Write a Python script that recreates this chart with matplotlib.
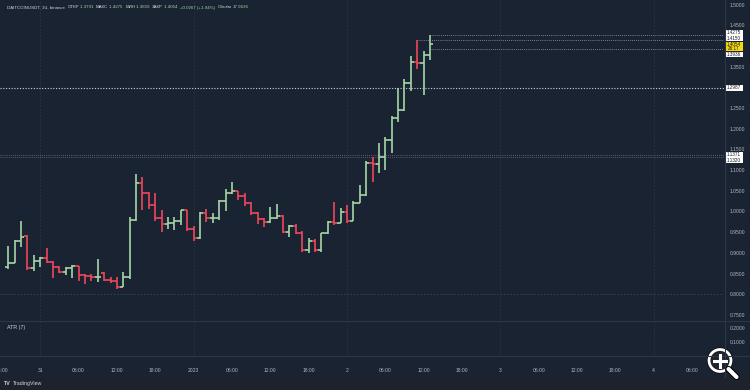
import matplotlib
matplotlib.use("Agg")
import matplotlib.pyplot as plt
from matplotlib.patches import Rectangle, Circle
import numpy as np

# ------------------------------
# DATA : 1h bars, Dec 30 19:00 -> Jan 2 13:00
# x = hours from Jan 1 00:00
# ------------------------------
hours = np.arange(-29, 38)

opens = [0.8668, 0.8765, 0.9290, 0.9409, 0.8628, 0.8805, 0.8870, 0.8789, 0.8668, 0.8531,
         0.8628, 0.8685, 0.8467, 0.8451, 0.8411, 0.8507, 0.8346, 0.8322, 0.8185, 0.8427,
         0.9796, 1.0697, 1.0456, 1.0158, 0.9852, 0.9699, 0.9731, 0.9780, 1.0030, 0.9570,
         0.9353, 0.9973, 0.9836, 0.9852, 1.0254, 1.0440, 1.0496, 1.0375, 1.0198, 0.9957,
         0.9820, 0.9739, 0.9852, 0.9892, 0.9513, 0.9651, 0.9473, 0.9071, 0.9296, 0.9071,
         0.9473, 0.9755, 0.9731, 0.9981, 0.9780, 1.0214, 1.0399, 1.1164, 1.1140, 1.1325,
         1.1728, 1.2251, 1.2452, 1.3096, 1.3619, 1.3595, 1.3791]
highs = [0.9168, 0.9304, 0.9780, 0.9425, 0.8942, 0.8894, 0.9111, 0.8795, 0.8672, 0.8668,
         0.8709, 0.8690, 0.8483, 0.8483, 0.8854, 0.8531, 0.8427, 0.8427, 0.8531, 0.9876,
         1.0906, 1.0842, 1.0480, 1.0440, 1.0037, 0.9876, 0.9876, 1.0037, 1.0037, 0.9651,
         0.9989, 1.0069, 0.9957, 1.0279, 1.0536, 1.0721, 1.0504, 1.0440, 1.0238, 0.9997,
         0.9852, 1.0101, 1.0174, 0.9908, 0.9675, 0.9699, 0.9530, 0.9369, 0.9329, 0.9489,
         0.9780, 1.0238, 1.0077, 1.0158, 1.0262, 1.0641, 1.1220, 1.1309, 1.1647, 1.1792,
         1.2315, 1.2975, 1.3193, 1.3764, 1.4143, 1.3877, 1.4275]
lows = [0.8612, 0.8749, 0.9135, 0.8588, 0.8564, 0.8652, 0.8749, 0.8387, 0.8507, 0.8467,
        0.8387, 0.8322, 0.8250, 0.8330, 0.8290, 0.8314, 0.8282, 0.8121, 0.8169, 0.8362,
        0.9780, 1.0037, 1.0053, 0.9771, 0.9497, 0.9570, 0.9554, 0.9667, 0.9530, 0.9296,
        0.9345, 0.9755, 0.9731, 0.9796, 1.0013, 1.0430, 1.0279, 1.0134, 0.9916, 0.9699,
        0.9618, 0.9731, 0.9812, 0.9473, 0.9393, 0.9457, 0.9015, 0.8990, 0.9023, 0.9031,
        0.9457, 0.9667, 0.9715, 0.9715, 0.9771, 1.0198, 1.0375, 1.0721, 1.0922, 1.1003,
        1.1406, 1.2170, 1.2436, 1.2919, 1.3434, 1.2814, 1.3659]
closes = [0.8765, 0.9290, 0.9377, 0.8628, 0.8805, 0.8870, 0.8789, 0.8668, 0.8531, 0.8628,
          0.8685, 0.8467, 0.8451, 0.8411, 0.8427, 0.8346, 0.8322, 0.8185, 0.8427, 0.9796,
          1.0697, 1.0456, 1.0158, 0.9852, 0.9699, 0.9731, 0.9780, 1.0030, 0.9570, 0.9353,
          0.9973, 0.9836, 0.9852, 1.0254, 1.0440, 1.0496, 1.0375, 1.0198, 0.9957, 0.9820,
          0.9739, 0.9852, 0.9892, 0.9513, 0.9651, 0.9473, 0.9071, 0.9296, 0.9071, 0.9473,
          0.9755, 0.9731, 0.9981, 0.9780, 1.0214, 1.0399, 1.1164, 1.1140, 1.1325, 1.1728,
          1.2251, 1.2452, 1.3096, 1.3619, 1.3595, 1.3791, 1.4054]

# time axis
tick_hours = [-30, -24, -18, -12, -6, 0, 6, 12, 18, 24, 30, 36, 42, 48, 54, 60, 66, 72, 78]
tick_labels = ['18:00', '31', '06:00', '12:00', '18:00', '2023', '06:00', '12:00', '18:00',
               '2', '06:00', '12:00', '18:00', '3', '06:00', '12:00', '18:00', '4', '06:00']
day_hours = [-24, 0, 24, 48, 72]

# price axis
price_ticks = [1.5, 1.45, 1.35, 1.25, 1.2, 1.15, 1.1, 1.05, 1.0, 0.95, 0.9, 0.85, 0.8, 0.75]
atr_ticks = [0.2, 0.1]

# horizontal levels
levels_full = [1.2987, 1.1371, 1.1320]
levels_right = [1.4275, 1.4150, 1.3936]
levels_right_start = [37, 35, 37]
last_price = 1.4054
countdown = '26:17'

# header
symbol = 'DAITCOINUSDT, 1Ч, binance'
ohlc_names = ['ОТКР', 'МАКС', 'МИН', 'ЗАКР']
ohlc_vals = [1.3791, 1.4275, 1.3659, 1.4054]
change = '+0.0267 (+1.94%)'
volume = 17.9636

# ------------------------------
# STYLE
# ------------------------------
BG = '#1a2332'
FOOT = '#1e222d'
SEP = '#2c3646'
GREEN = '#a5d6a7'
RED = '#f0475c'
TXT = '#b2b5be'
plt.rcParams['font.family'] = ['Liberation Sans', 'DejaVu Sans']

YMIN, YMAX = 0.7379, 1.5109
XMIN, XMAX = -30.3, 83.0
W, H = 750, 390

fig = plt.figure(figsize=(7.5, 3.9), dpi=100, facecolor=BG)

def frac(x, y, w, h):
    return [x / W, 1 - (y + h) / H, w / W, h / H]

# ----- price pane -----
ax = fig.add_axes(frac(0, 0, 724, 320))
ax.set_facecolor(BG)
ax.set_xlim(XMIN, XMAX)
ax.set_ylim(YMIN, YMAX)
for s in ax.spines.values():
    s.set_visible(False)

for d in day_hours:
    ax.axvline(d, color=SEP, lw=0.6, ls=(0, (2, 2)), zorder=0)
ax.axhline(0.8, color='#3a4456', lw=0.6, ls=(0, (2, 2)), zorder=0)

up = [c >= o for o, c in zip(opens, closes)]
cols = [GREEN if u else RED for u in up]
tw = 0.5
ax.vlines(hours, lows, highs, colors=cols, lw=1.2, zorder=3)
ax.hlines(opens, hours - tw, hours, colors=cols, lw=1.2, zorder=3)
ax.hlines(closes, hours, hours + tw, colors=cols, lw=1.2, zorder=3)

ax.axhline(levels_full[0], color='#cfd3dc', lw=0.8, ls=(0, (1, 1.5)), zorder=2)
for lv in levels_full[1:]:
    ax.axhline(lv, color='#6b7586', lw=0.6, ls=(0, (1, 1.5)), zorder=2)
for lv, st in zip(levels_right, levels_right_start):
    ax.hlines(lv, st, XMAX, color='#9aa2b1', lw=0.6, ls=(0, (1, 1.5)), zorder=2)

ax.set_xticks([])
ax.yaxis.tick_right()
ax.set_yticks(price_ticks)
ax.set_yticklabels(['%.4f' % p for p in price_ticks])
ax.tick_params(axis='y', length=0, pad=4, labelsize=3.6, labelcolor=TXT)

# ----- ATR pane -----
ax2 = fig.add_axes(frac(0, 321, 724, 35))
ax2.set_facecolor(BG)
ax2.set_xlim(XMIN, XMAX)
ax2.set_ylim(0.0, 0.25)
for s in ax2.spines.values():
    s.set_visible(False)
for d in day_hours:
    ax2.axvline(d, color=SEP, lw=0.6, ls=(0, (2, 2)), zorder=0)
ax2.yaxis.tick_right()
ax2.set_yticks(atr_ticks)
ax2.set_yticklabels(['%.4f' % p for p in atr_ticks])
ax2.tick_params(axis='y', length=0, pad=4, labelsize=3.6, labelcolor=TXT)
ax2.set_xticks(tick_hours)
ax2.set_xticklabels(tick_labels)
ax2.tick_params(axis='x', length=0, pad=9, labelsize=3.6, labelcolor=TXT)
ax2.text(0.01, 0.82, 'ATR (7)', transform=ax2.transAxes, fontsize=3.8, color='#d1d4dc', va='center')

# ----- overlay (pixel coordinates) -----
ov = fig.add_axes([0, 0, 1, 1], zorder=10)
ov.set_xlim(0, W)
ov.set_ylim(H, 0)
ov.axis('off')
ov.patch.set_visible(False)

ov.add_patch(Rectangle((0, 376.5), W, 14, color=FOOT, lw=0))
ov.plot([0, W], [320.5, 320.5], color=SEP, lw=0.8)
ov.plot([0, W], [356, 356], color=SEP, lw=0.8)
ov.plot([724.5, 724.5], [0, 376.5], color=SEP, lw=0.8)

def py(v):
    return (YMAX - v) / (YMAX - YMIN) * 320

# price tags on the right axis (stacked so they don't overlap)
tags = [('%.4f' % levels_right[0], 33.0), ('%.4f' % levels_right[1], 38.7),
        ('%.4f' % levels_right[2], 54.3), ('%.4f' % levels_full[0], py(levels_full[0])),
        ('%.4f' % levels_full[1], 155.0), ('%.4f' % levels_full[2], 160.6)]
for t, yc in tags:
    ov.add_patch(Rectangle((725, yc - 2.8), 17.5, 5.6, fc='white', ec='none'))
    ov.text(733.7, yc, t, fontsize=3.3, color='#131722', ha='center', va='center')
ov.add_patch(Rectangle((725, 41.6), 17.5, 9.6, fc='#f5d90a', ec='none'))
ov.text(733.7, 44.3, '%.4f' % last_price, fontsize=3.3, color='#131722', ha='center', va='center')
ov.text(733.7, 48.7, countdown, fontsize=3.3, color='#131722', ha='center', va='center')

# header line, pieces placed one after another
renderer = fig.canvas.get_renderer()
pieces = [(symbol + ' ', '#d1d4dc')]
for n, v in zip(ohlc_names, ohlc_vals):
    pieces.append((n, '#d1d4dc'))
    pieces.append(('%.4f ' % v, GREEN))
pieces.append((change + ' ', GREEN))
pieces.append(('Объём', '#d1d4dc'))
pieces.append(('%.4f' % volume, GREEN))
hx, hy = 7, 7.5
for txt, c in pieces:
    t = ov.text(hx, hy, txt, fontsize=3.2, color=c, va='center')
    bb = t.get_window_extent(renderer=renderer)
    hx += bb.width + 1.2

# footer logo
ov.text(4, 383.5, 'TV', fontsize=3.8, color='#d1d4dc', va='center', fontweight='bold')
ov.text(12.5, 383.5, 'TradingView', fontsize=3.8, color='#d1d4dc', va='center')

# zoom magnifier overlay
ov.add_patch(Circle((720, 360.5), 12.2, fc='none', ec='black', lw=1.2))
ov.add_patch(Circle((720, 360.5), 11, fc=(0.15, 0.15, 0.15, 0.55), ec='white', lw=2.0))
ov.plot([728.5, 736.5], [369, 377], color='black', lw=4.5, solid_capstyle='round')
ov.plot([728.5, 736.5], [369, 377], color='white', lw=3.0, solid_capstyle='round')
ov.plot([714, 726], [360.5, 360.5], color='white', lw=2.2)
ov.plot([720, 720], [354.5, 366.5], color='white', lw=2.2)

fig.savefig('out.png', dpi=100, facecolor=BG)
